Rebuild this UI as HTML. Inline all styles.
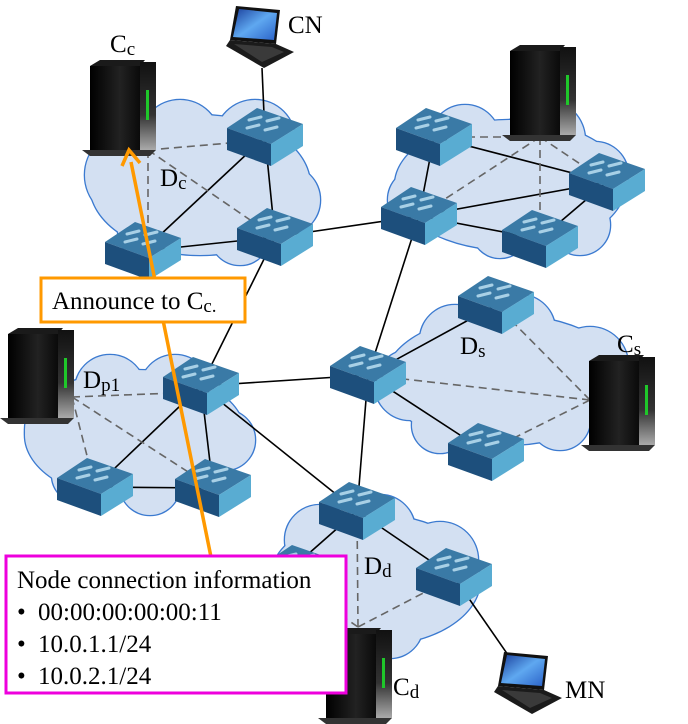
<!DOCTYPE html>
<html><head><meta charset="utf-8"><style>
html,body{margin:0;padding:0;background:#fff;}
svg{display:block;font-family:"Liberation Serif",serif;}
</style></head><body>
<svg width="688" height="724" viewBox="0 0 688 724" xmlns="http://www.w3.org/2000/svg">
<defs>
<linearGradient id="srv" x1="0" x2="1" y1="0" y2="0"><stop offset="0" stop-color="#000"/><stop offset="0.6" stop-color="#222"/><stop offset="1" stop-color="#0a0a0a"/></linearGradient>
<linearGradient id="srvside" x1="0" x2="0" y1="0" y2="1"><stop offset="0" stop-color="#111"/><stop offset="0.6" stop-color="#333"/><stop offset="1" stop-color="#aaa"/></linearGradient>
<linearGradient id="scr" x1="0" x2="1" y1="0" y2="1"><stop offset="0" stop-color="#1a3f9c"/><stop offset="0.5" stop-color="#5fa8f0"/><stop offset="1" stop-color="#2a62c8"/></linearGradient>
<g id="sw">
<polygon points="0,20 30,0 76,16 44,36" fill="#3a7aa6"/>
<polygon points="0,20 44,36 44,58 0,42" fill="#1d4f7c"/>
<polygon points="44,36 76,16 76,38 44,58" fill="#59acd2"/>
<g stroke="#a8d0e6" stroke-width="3" stroke-linecap="round">
<line x1="22" y1="12" x2="34" y2="9"/><line x1="40" y1="13" x2="52" y2="10"/>
<line x1="20" y1="20" x2="32" y2="17"/><line x1="38" y1="22" x2="50" y2="19"/>
</g>
</g>
<g id="server">
<rect x="0" y="6" width="50" height="84" fill="url(#srv)"/>
<polygon points="0,6 10,0 55,0 50,6" fill="#1a1a1a"/>
<rect x="50" y="2" width="16" height="88" fill="url(#srvside)"/>
<rect x="56" y="30" width="3" height="30" fill="#1fc72a"/>
<polygon points="-8,90 66,90 60,96 0,96" fill="#333"/>
</g>
<g id="laptop">
<polygon points="8,0 52,4 48,38 2,34" fill="#111"/>
<polygon points="11,3 49,7 46,34 5,31" fill="url(#scr)"/>
<polygon points="2,34 48,38 66,46 36,62 -2,40" fill="#1b1b1b"/>
<polygon points="6,38 44,41 56,46 34,56" fill="#3a3a3a"/>
</g>
</defs>

<g fill="#d3e0f2" stroke="#3b7ad0" stroke-width="2.6">
<ellipse cx="200" cy="185" rx="110" ry="70"/><circle cx="130" cy="175" r="45"/><circle cx="180" cy="140" r="40"/><circle cx="255" cy="140" r="40"/><circle cx="285" cy="200" r="35"/><circle cx="240" cy="235" r="30"/><circle cx="150" cy="230" r="32"/>
<ellipse cx="510" cy="185" rx="115" ry="65"/><circle cx="465" cy="140" r="35"/><circle cx="545" cy="140" r="40"/><circle cx="595" cy="175" r="33"/><circle cx="420" cy="200" r="32"/><circle cx="500" cy="230" r="28"/><circle cx="580" cy="225" r="30"/>
<ellipse cx="505" cy="380" rx="120" ry="65"/><circle cx="455" cy="340" r="35"/><circle cx="520" cy="330" r="35"/><circle cx="590" cy="365" r="38"/><circle cx="410" cy="385" r="35"/><circle cx="440" cy="425" r="28"/><circle cx="560" cy="420" r="30"/>
<ellipse cx="135" cy="435" rx="110" ry="65"/><circle cx="70" cy="430" r="45"/><circle cx="110" cy="390" r="35"/><circle cx="175" cy="390" r="35"/><circle cx="225" cy="440" r="30"/><circle cx="150" cy="485" r="30"/><circle cx="80" cy="475" r="28"/>
<ellipse cx="375" cy="580" rx="105" ry="65"/><circle cx="320" cy="540" r="35"/><circle cx="380" cy="530" r="35"/><circle cx="440" cy="560" r="38"/><circle cx="300" cy="590" r="35"/><circle cx="390" cy="625" r="33"/>
</g>
<g fill="#d3e0f2">
<ellipse cx="200" cy="185" rx="110" ry="70"/><circle cx="130" cy="175" r="45"/><circle cx="180" cy="140" r="40"/><circle cx="255" cy="140" r="40"/><circle cx="285" cy="200" r="35"/><circle cx="240" cy="235" r="30"/><circle cx="150" cy="230" r="32"/>
<ellipse cx="510" cy="185" rx="115" ry="65"/><circle cx="465" cy="140" r="35"/><circle cx="545" cy="140" r="40"/><circle cx="595" cy="175" r="33"/><circle cx="420" cy="200" r="32"/><circle cx="500" cy="230" r="28"/><circle cx="580" cy="225" r="30"/>
<ellipse cx="505" cy="380" rx="120" ry="65"/><circle cx="455" cy="340" r="35"/><circle cx="520" cy="330" r="35"/><circle cx="590" cy="365" r="38"/><circle cx="410" cy="385" r="35"/><circle cx="440" cy="425" r="28"/><circle cx="560" cy="420" r="30"/>
<ellipse cx="135" cy="435" rx="110" ry="65"/><circle cx="70" cy="430" r="45"/><circle cx="110" cy="390" r="35"/><circle cx="175" cy="390" r="35"/><circle cx="225" cy="440" r="30"/><circle cx="150" cy="485" r="30"/><circle cx="80" cy="475" r="28"/>
<ellipse cx="375" cy="580" rx="105" ry="65"/><circle cx="320" cy="540" r="35"/><circle cx="380" cy="530" r="35"/><circle cx="440" cy="560" r="38"/><circle cx="300" cy="590" r="35"/><circle cx="390" cy="625" r="33"/>
</g>

<g stroke="#000" stroke-width="1.6">
<line x1="262" y1="68" x2="265" y2="137"/>
<line x1="265" y1="137" x2="275" y2="237"/>
<line x1="265" y1="137" x2="143" y2="251"/>
<line x1="143" y1="251" x2="275" y2="237"/>
<line x1="275" y1="237" x2="419" y2="216"/>
<line x1="275" y1="237" x2="201" y2="386"/>
<line x1="419" y1="216" x2="434" y2="137"/>
<line x1="419" y1="216" x2="607" y2="182"/>
<line x1="419" y1="216" x2="540" y2="239"/>
<line x1="434" y1="137" x2="607" y2="182"/>
<line x1="607" y1="182" x2="540" y2="239"/>
<line x1="419" y1="216" x2="368" y2="375"/>
<line x1="368" y1="375" x2="201" y2="386"/>
<line x1="368" y1="375" x2="496" y2="305"/>
<line x1="368" y1="375" x2="486" y2="452"/>
<line x1="368" y1="375" x2="357" y2="511"/>
<line x1="201" y1="386" x2="95" y2="487"/>
<line x1="201" y1="386" x2="213" y2="488"/>
<line x1="95" y1="487" x2="213" y2="488"/>
<line x1="201" y1="386" x2="357" y2="511"/>
<line x1="357" y1="511" x2="454" y2="577"/>
<line x1="357" y1="511" x2="290" y2="570"/>
<line x1="454" y1="577" x2="515" y2="665"/>
</g>
<g stroke="#666" stroke-width="1.6" stroke-dasharray="8,5">
<line x1="148" y1="150" x2="265" y2="140"/>
<line x1="148" y1="150" x2="148" y2="251"/>
<line x1="148" y1="150" x2="275" y2="237"/>
<line x1="540" y1="137" x2="434" y2="137"/>
<line x1="540" y1="137" x2="419" y2="216"/>
<line x1="540" y1="137" x2="540" y2="239"/>
<line x1="540" y1="137" x2="607" y2="182"/>
<line x1="590" y1="400" x2="496" y2="305"/>
<line x1="590" y1="400" x2="368" y2="375"/>
<line x1="590" y1="400" x2="486" y2="452"/>
<line x1="72" y1="397" x2="201" y2="392"/>
<line x1="72" y1="397" x2="95" y2="487"/>
<line x1="72" y1="397" x2="213" y2="488"/>
<line x1="358" y1="627" x2="357" y2="511"/>
<line x1="358" y1="627" x2="454" y2="577"/>
<line x1="358" y1="627" x2="290" y2="580"/>
</g>

<use href="#sw" x="227" y="108"/>
<use href="#sw" x="105" y="222"/>
<use href="#sw" x="237" y="208"/>
<use href="#sw" x="396" y="108"/>
<use href="#sw" x="381" y="187"/>
<use href="#sw" x="569" y="153"/>
<use href="#sw" x="502" y="210"/>
<use href="#sw" x="458" y="276"/>
<use href="#sw" x="330" y="346"/>
<use href="#sw" x="448" y="423"/>
<use href="#sw" x="163" y="357"/>
<use href="#sw" x="57" y="458"/>
<use href="#sw" x="175" y="459"/>
<use href="#sw" x="319" y="482"/>
<use href="#sw" x="416" y="548"/>
<use href="#sw" x="262" y="545"/>

<use href="#server" x="90" y="60"/>
<use href="#server" x="510" y="45"/>
<use href="#server" x="589" y="355"/>
<use href="#server" x="8" y="328"/>
<use href="#server" x="326" y="628"/>

<use href="#laptop" x="228" y="6"/>
<use href="#laptop" x="496" y="652"/>

<g font-size="25" fill="#000">
<text x="110" y="52">C<tspan font-size="19" dy="3">c</tspan></text>
<text x="288" y="33">CN</text>
<text x="160" y="186">D<tspan font-size="19" dy="3">c</tspan></text>
<text x="617" y="352">C<tspan font-size="19" dy="3">s</tspan></text>
<text x="460" y="354">D<tspan font-size="19" dy="3">s</tspan></text>
<text x="83" y="388">D<tspan font-size="19" dy="3">p1</tspan></text>
<text x="364" y="574">D<tspan font-size="19" dy="3">d</tspan></text>
<text x="393" y="695">C<tspan font-size="19" dy="3">d</tspan></text>
<text x="565" y="698">MN</text>
</g>

<line x1="211" y1="557" x2="131" y2="162" stroke="#ff9900" stroke-width="3.5"/>
<polyline points="122,166 129,150 140,163" fill="none" stroke="#ff9900" stroke-width="3.5"/>

<rect x="41" y="278" width="204" height="44" fill="#fff" stroke="#ff9900" stroke-width="3"/>
<text x="52" y="309" font-size="25">Announce to C<tspan font-size="19" dy="3">c.</tspan></text>

<rect x="6" y="556" width="340" height="137" fill="#fff" stroke="#ee00dd" stroke-width="3"/>
<g font-size="25">
<text x="17" y="588">Node connection information</text>
<text x="17" y="620">•</text><text x="38" y="620">00:00:00:00:00:11</text>
<text x="17" y="652">•</text><text x="38" y="652">10.0.1.1/24</text>
<text x="17" y="684">•</text><text x="38" y="684">10.0.2.1/24</text>
</g>
</svg>
</body></html>
